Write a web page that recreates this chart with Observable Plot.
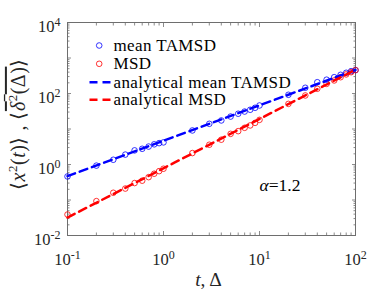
<!DOCTYPE html>
<html><head><meta charset="utf-8">
<script src="https://cdn.jsdelivr.net/npm/d3@7"></script>
<script src="https://cdn.jsdelivr.net/npm/@observablehq/plot@0.6"></script>
<style>body{margin:0;background:#fff;} svg{display:block} svg text{font-family:"Liberation Serif","Times New Roman",serif !important;}</style>
</head><body><div id="chart"></div>
<script>
// ---- data ----
const lag = [0.1,0.2,0.3,0.4,0.5,0.6,0.7,0.8,0.9,1,2,3,4,5,6,7,8,9,10,20,30,40,50,60,70,80,90,100];
const meanTAMSD = [0.46,0.93,1.36,1.9,2.5,2.77,3.2,3.7,4.0,4.2,9.1,14,17.4,22.4,26.9,31,34.8,39.6,46,92,145,208,245,288,336,383,425,456];
const msd = [0.039,0.093,0.16,0.21,0.30,0.35,0.44,0.55,0.65,0.76,2.1,3.6,5.0,7.3,8.7,10.8,12.6,14.9,18.1,51,88,136,187,233,288,345,398,456];
const lineLag = [0.1, 100];
const analyticTAMSD = [0.47, 460];
const analyticMSD = [0.032, 470];
const legendLabels = ["mean TAMSD", "MSD", "analytical mean TAMSD", "analytical MSD"];
const xTickValues = [0.1, 1, 10, 100];
const yTickValues = [0.01, 1, 100, 10000];
const annotation = {x: 10, y: 0.25, text: "ALPHA"};

const BLUE = "#0000ff", RED = "#ff0000", AXC = "#262626", FRAMEC = "#6e6e6e";
const FONT = "'Liberation Serif', 'Times New Roman', serif";

const rows = (xs, ys) => xs.map((x, i) => ({x, y: ys[i]}));
function minorTicks(lo, hi) {
  const out = [];
  for (let e = Math.round(Math.log10(lo)); e < Math.round(Math.log10(hi)); e++)
    for (let k = 2; k <= 9; k++) out.push(k * Math.pow(10, e));
  return out;
}
function decades(lo, hi) {
  const out = [];
  for (let e = Math.round(Math.log10(lo)); e <= Math.round(Math.log10(hi)); e++) out.push(Math.pow(10, e));
  return out;
}
const xMinor = minorTicks(0.1, 100), yMinor = minorTicks(0.01, 10000);
const xDec = decades(0.1, 100), yDec = decades(0.01, 10000);
const fmt = d => "10^" + Math.round(Math.log10(d));

const legendLine = {draw(ctx) { ctx.moveTo(-10.5, 0); ctx.lineTo(10.5, 0); }};
const legendColors = [BLUE, RED, BLUE, RED];
const legendMarks = [];
legendLabels.forEach((lab, i) => {
  const dy = [23, 41.3, 59.7, 77.3][i];
  if (i < 2) legendMarks.push(Plot.dot([lab], {frameAnchor: "top-left", dx: 31.7, dy, r: 2.8, stroke: legendColors[i], strokeWidth: 0.8, fill: "none"}));
  else legendMarks.push(Plot.dot([lab], {frameAnchor: "top-left", dx: 32.5, dy, symbol: legendLine, stroke: legendColors[i], strokeWidth: 2.5, strokeDasharray: "8,5", fill: "none"}));
  legendMarks.push(Plot.text([lab], {frameAnchor: "top-left", dx: 46, dy, text: d => d, textAnchor: "start", lineAnchor: "middle", fontSize: 17, fill: "#000"}));
});

const tickOpts = {stroke: FRAMEC, tickFormat: () => "", strokeWidth: 0.8};
const plot = Plot.plot({
  width: 392, height: 294,
  marginLeft: 67, marginRight: 37, marginTop: 22, marginBottom: 59,
  style: {fontFamily: FONT, fontSize: "16px", background: "#fff", color: "#000"},
  x: {type: "log", domain: [0.1, 100], label: null},
  y: {type: "log", domain: [0.01, 10000], label: null},
  marks: [
    Plot.axisX(xDec, {anchor: "bottom", tickSize: -4, ...tickOpts}),
    Plot.axisX(xDec, {anchor: "top", tickSize: -4, ...tickOpts}),
    Plot.axisX(xMinor, {anchor: "bottom", tickSize: -2.5, ...tickOpts}),
    Plot.axisX(xMinor, {anchor: "top", tickSize: -2.5, ...tickOpts}),
    Plot.axisY(yDec, {anchor: "left", tickSize: -4, ...tickOpts}),
    Plot.axisY(yDec, {anchor: "right", tickSize: -4, ...tickOpts}),
    Plot.axisY(yMinor, {anchor: "left", tickSize: -2.5, ...tickOpts}),
    Plot.axisY(yMinor, {anchor: "right", tickSize: -2.5, ...tickOpts}),
    Plot.axisX(xTickValues, {anchor: "bottom", tickSize: 0, tickPadding: 18, tickFormat: fmt, fontSize: 16.5, fill: AXC}),
    Plot.axisY(yTickValues, {anchor: "left", tickSize: 0, tickPadding: 7, tickFormat: fmt, fontSize: 16.5, dy: 4, fill: AXC}),
    Plot.frame({stroke: FRAMEC, strokeWidth: 1}),
    Plot.dot(rows(lag, meanTAMSD), {x: "x", y: "y", r: 2.8, stroke: BLUE, strokeWidth: 0.8, fill: "none"}),
    Plot.dot(rows(lag, msd), {x: "x", y: "y", r: 2.8, stroke: RED, strokeWidth: 0.8, fill: "none"}),
    Plot.line(rows(lineLag, analyticTAMSD), {x: "x", y: "y", stroke: BLUE, strokeWidth: 2.5, strokeDasharray: "8,5"}),
    Plot.line(rows(lineLag, analyticMSD), {x: "x", y: "y", stroke: RED, strokeWidth: 2.5, strokeDasharray: "8,5"}),
    ...legendMarks,
    Plot.text([annotation], {x: "x", y: "y", text: "text", textAnchor: "start", lineAnchor: "middle", fontSize: 17.5, fill: "#000"}),
    Plot.text(["XLABEL"], {frameAnchor: "bottom", dx: -3, dy: 44, text: d => d, textAnchor: "middle", lineAnchor: "middle", fontSize: 19.5, fill: AXC}),
    Plot.text(["YLABEL"], {frameAnchor: "left", dx: -49, dy: -5, rotate: -90, text: d => d, textAnchor: "middle", lineAnchor: "middle", fontSize: 20, fill: AXC})
  ]
});
document.getElementById("chart").appendChild(plot);

// ---- rich text (superscripts, italics) ----
const NS = "http://www.w3.org/2000/svg";
const IT = {"font-style": "italic"};
const add = (parent, str, attrs) => {
  const ts = document.createElementNS(NS, "tspan");
  ts.textContent = str;
  for (const k in (attrs || {})) ts.setAttribute(k, attrs[k]);
  parent.appendChild(ts);
  return ts;
};
plot.querySelectorAll("text").forEach(el => {
  const s = el.textContent;
  if (legendLabels.includes(s)) {
    el.style.letterSpacing = "0.4px";
  } else if (/^10\^/.test(s)) {
    el.textContent = "";
    add(el, "10");
    add(el, s.slice(3), {dy: -6, "font-size": 12});
  } else if (s === "XLABEL") {
    el.textContent = "";
    add(el, "t", IT); add(el, ",\u2009"); add(el, "\u0394");
  } else if (s === "ALPHA") {
    el.textContent = "";
    add(el, "\u03b1", IT); add(el, "=1.2");
  } else if (s === "YLABEL") {
    el.textContent = "";
    el.style.letterSpacing = "0.5px";
    add(el, "\u27e8");
    add(el, "x", IT);
    add(el, "2", {dy: -8, "font-size": 13});
    add(el, "(", {dy: 8});
    add(el, "t", IT);
    add(el, ")\u27e9 , \u27e8");
    const ov = add(el, "");
    ov.setAttribute("style", "text-decoration: overline");
    add(ov, "\u03b4", IT);
    add(ov, "2", {dy: -8, "font-size": 13});
    add(ov, "(\u0394)", {dy: 8});
    add(el, "\u27e9");
  }
});
</script></body></html>
